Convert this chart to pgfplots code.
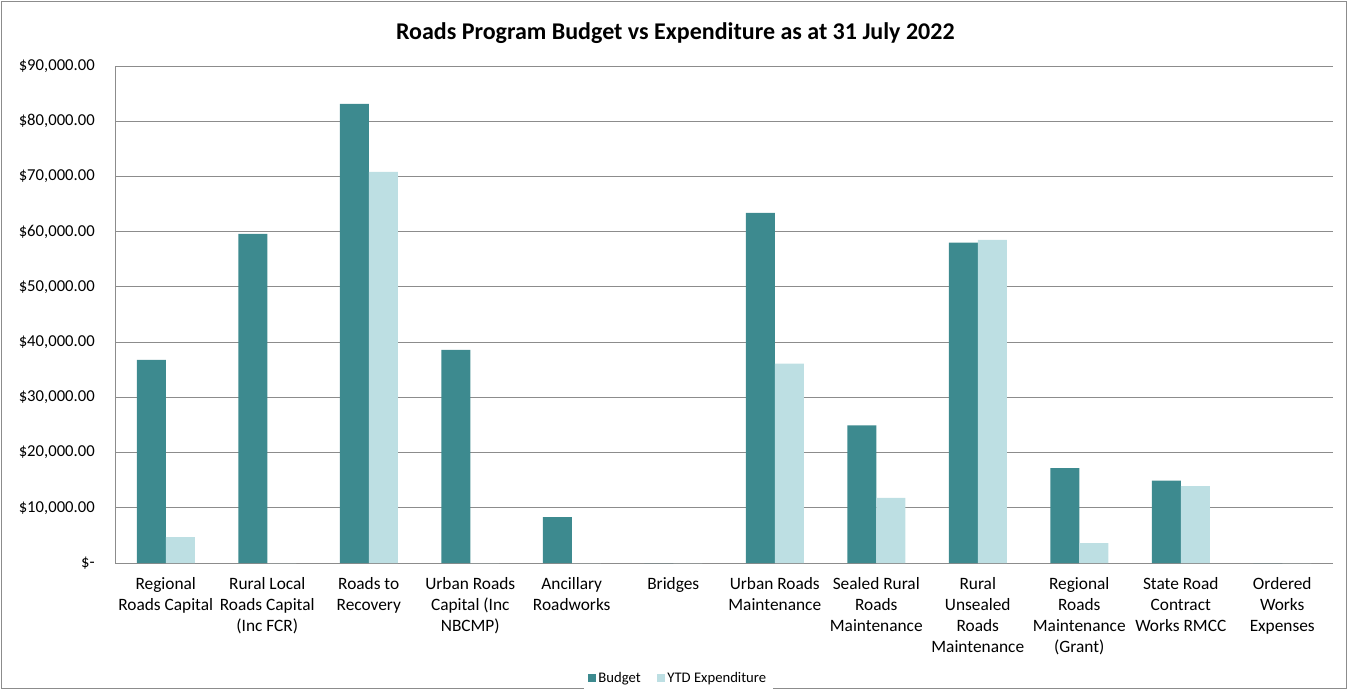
\documentclass[border=0pt]{standalone}
\usepackage{fontspec}
\setmainfont{Carlito}
\usepackage{pgfplots}
\pgfplotsset{compat=1.18}
\definecolor{budget}{RGB}{61,138,143}
\definecolor{ytd}{RGB}{189,223,227}
\definecolor{gridc}{RGB}{140,140,140}
\begin{document}
\begin{tikzpicture}
\useasboundingbox (0,0) rectangle (1013.25pt,-517.5pt);
\draw[gridc, line width=0.75pt] (1pt,-1pt) rectangle (1010pt,-516.5pt);
\node[font=\fontsize{18}{21}\selectfont\bfseries] at (506.5pt,-25pt) {Roads Program Budget vs Expenditure as at 31 July 2022};
\begin{axis}[
  at={(86.25pt,-49.5pt)}, anchor=north west,
  scale only axis, width=913.5pt, height=372.75pt,
  ybar=0pt, bar width=21.75pt,
  xmin=-0.5, xmax=11.5, ymin=0, ymax=90000,
  scaled y ticks=false,
  xtick={0,...,11},
  xticklabels={
    {Regional\\Roads Capital},
    {Rural Local\\Roads Capital\\(Inc FCR)},
    {Roads to\\Recovery},
    {Urban Roads\\Capital (Inc\\NBCMP)},
    {Ancillary\\Roadworks},
    {Bridges},
    {Urban Roads\\Maintenance},
    {Sealed Rural\\Roads\\Maintenance},
    {Rural\\Unsealed\\Roads\\Maintenance},
    {Regional\\Roads\\Maintenance\\(Grant)},
    {State Road\\Contract\\Works RMCC},
    {Ordered\\Works\\Expenses}},
  xticklabel style={font=\fontsize{13}{15.75}\selectfont, align=center, anchor=north, inner sep=0pt, yshift=-11pt},
  ytick={0,10000,...,90000},
  yticklabels={{\$-\hspace{6pt}},{\$10,000.00},{\$20,000.00},{\$30,000.00},{\$40,000.00},{\$50,000.00},{\$60,000.00},{\$70,000.00},{\$80,000.00},{\$90,000.00}},
  yticklabel style={font=\fontsize{12.5}{15}\selectfont, anchor=east, inner sep=0pt, xshift=-15pt},
  major tick length=0pt,
  ymajorgrids, grid style={gridc, line width=0.75pt},
  axis x line*=bottom, axis y line*=left,
  axis line style={gridc, line width=0.75pt, -},
  legend style={at={(0.4625,-0.2314)}, anchor=center, draw=none, font=\fontsize{11}{13}\selectfont, legend columns=2, /tikz/every even column/.append style={column sep=10pt}},
  legend image code/.code={\fill[#1] (0pt,-3pt) rectangle (6pt,3pt);},
]
\addplot[fill=budget, draw=none] coordinates {(0,36800) (1,59600) (2,83150) (3,38600) (4,8300) (5,0) (6,63400) (7,24900) (8,58000) (9,17200) (10,14900) (11,0)};
\addplot[fill=ytd, draw=none] coordinates {(0,4700) (1,0) (2,70850) (3,0) (4,0) (5,0) (6,36100) (7,11800) (8,58500) (9,3600) (10,13900) (11,0)};
\legend{Budget, YTD Expenditure}
\end{axis}
\end{tikzpicture}
\end{document}
